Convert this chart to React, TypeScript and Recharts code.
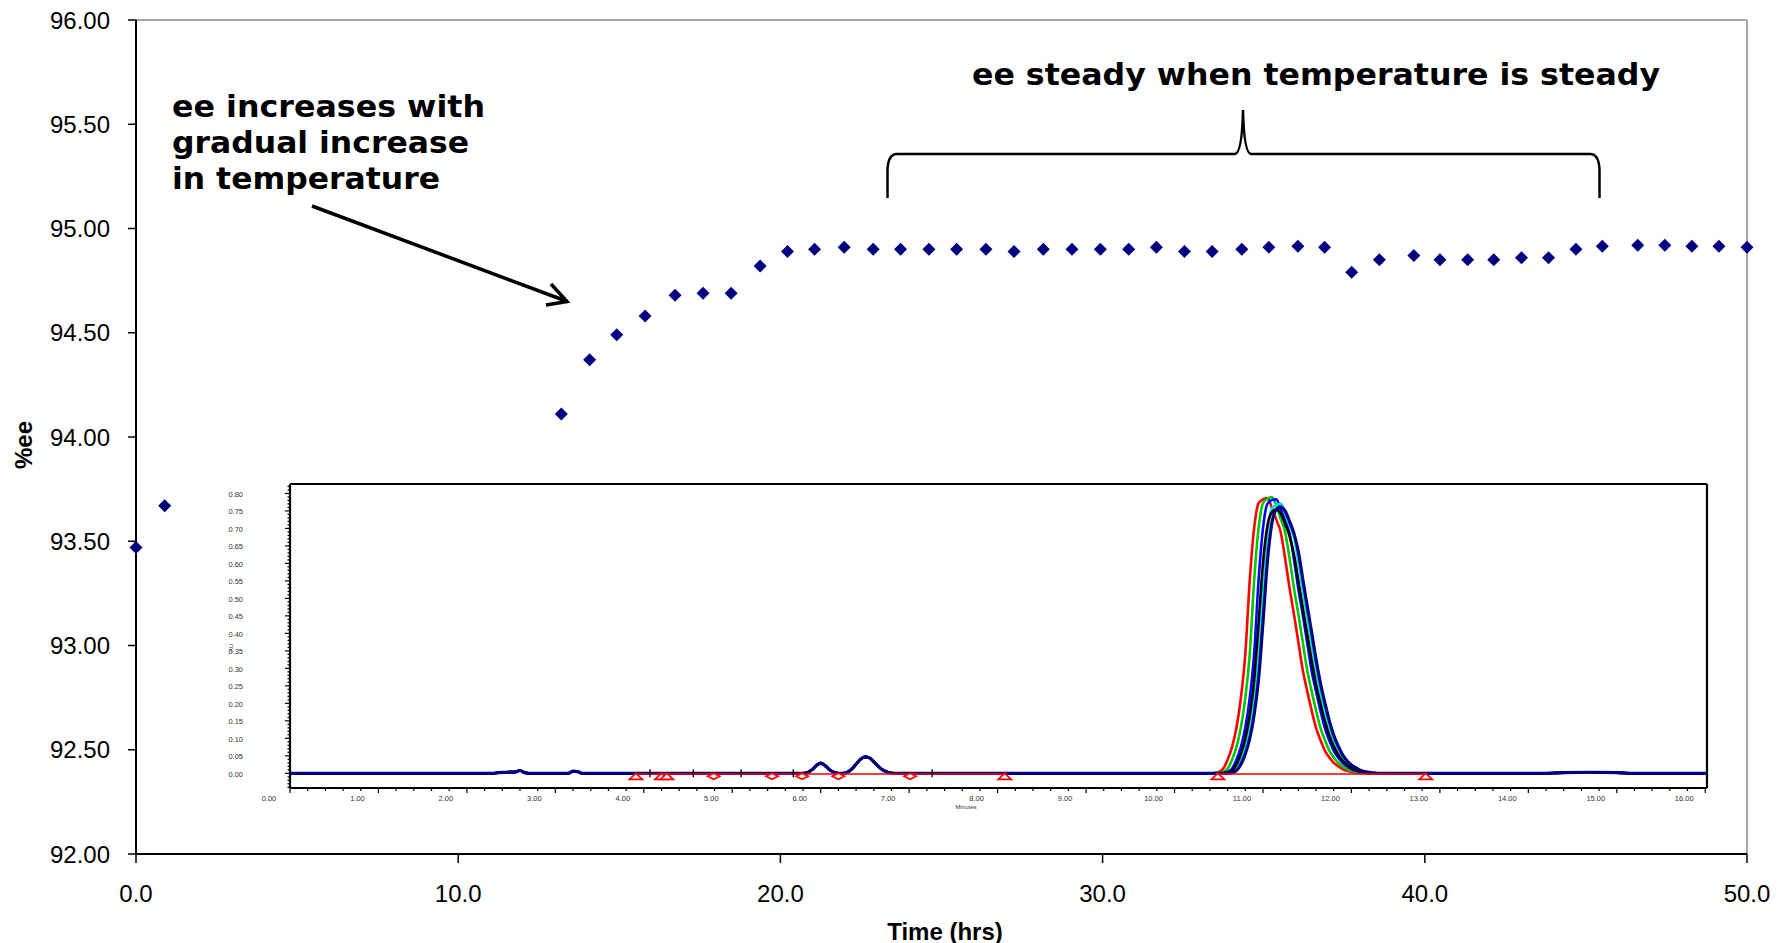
import React from 'react';
import {
  ScatterChart,
  Scatter,
  ComposedChart,
  Line,
  XAxis,
  YAxis,
  ReferenceLine,
} from 'recharts';

const W = 1781;
const H = 943;

const ARIAL = '"Liberation Sans", Arial, sans-serif';
const VERDANA = '"DejaVu Sans", Verdana, sans-serif';
const NARROW = '"Liberation Sans Narrow", "Arial Narrow", "Liberation Sans", sans-serif';

// main plot: %ee against run time (hrs)
const hours = [
  0, 0.89, 13.2, 14.08, 14.92, 15.8, 16.73, 17.6, 18.47, 19.37, 20.22, 21.06, 21.98, 22.88, 23.73,
  24.61, 25.47, 26.38, 27.25, 28.16, 29.05, 29.93, 30.81, 31.67, 32.54, 33.4, 34.32, 35.16, 36.06,
  36.89, 37.73, 38.59, 39.66, 40.47, 41.33, 42.14, 43.0, 43.84, 44.69, 45.51, 46.61, 47.45, 48.29,
  49.13, 50.0,
];
const eeValues = [
  93.47, 93.67, 94.11, 94.37, 94.49, 94.58, 94.68, 94.69, 94.69, 94.82, 94.89, 94.9, 94.91, 94.9,
  94.9, 94.9, 94.9, 94.9, 94.89, 94.9, 94.9, 94.9, 94.9, 94.91, 94.89, 94.89, 94.9, 94.91, 94.915,
  94.91, 94.79, 94.85, 94.87, 94.85, 94.85, 94.85, 94.86, 94.86, 94.9, 94.915, 94.92, 94.92, 94.915,
  94.915, 94.91,
];
const eeTicks = [92, 92.5, 93, 93.5, 94, 94.5, 95, 95.5, 96];
const hourTicks = [0, 10, 20, 30, 40, 50];

// inset chromatogram (AU against minutes)
const baseTimes = [
  0, 2.3, 2.35, 2.45, 2.55, 2.6, 2.65, 2.7, 3.15, 3.2, 3.25, 3.3, 5.8, 5.85, 5.9, 5.95, 6.0, 6.05,
  6.1, 6.15, 6.2, 6.25, 6.3, 6.35, 6.4, 6.45, 6.5, 6.55, 6.6, 6.65, 6.7, 6.75, 6.8, 6.85, 10.35,
];
const baseAU = [
  0, 0, 0.002, 0.003, 0.004, 0.008, 0.002, 0, 0, 0.006, 0.005, 0, 0, 0.002, 0.01, 0.022, 0.029,
  0.022, 0.01, 0.003, 0, 0, 0.003, 0.012, 0.026, 0.04, 0.047, 0.044, 0.033, 0.02, 0.01, 0.004,
  0.001, 0, 0,
];
const peakTimes = [
  10.4, 10.45, 10.5, 10.55, 10.6, 10.65, 10.7, 10.75, 10.8, 10.85, 10.9, 10.95, 11.0, 11.05, 11.1,
  11.15, 11.2, 11.25, 11.3, 11.35, 11.4, 11.45, 11.5, 11.55, 11.6, 11.65, 11.7, 11.75, 11.8, 11.85,
  11.9, 11.95, 12.0, 12.05, 12.1, 12.15, 12.2, 12.25, 12.3, 12.35, 12.4,
];
const redAU = [
  0, 0.001, 0.004, 0.013, 0.039, 0.075, 0.13, 0.215, 0.34, 0.55, 0.7, 0.772, 0.783, 0.787, 0.76,
  0.725, 0.69, 0.615, 0.53, 0.455, 0.375, 0.295, 0.235, 0.18, 0.13, 0.095, 0.065, 0.045, 0.03,
  0.02, 0.012, 0.007, 0.004, 0.002, 0.001, 0, 0, 0, 0, 0, 0,
];
const greenAU = [
  0, 0, 0.001, 0.004, 0.013, 0.039, 0.075, 0.13, 0.215, 0.34, 0.55, 0.7, 0.772, 0.785, 0.79, 0.765,
  0.728, 0.69, 0.615, 0.53, 0.455, 0.375, 0.295, 0.235, 0.18, 0.13, 0.095, 0.065, 0.045, 0.03,
  0.02, 0.012, 0.007, 0.004, 0.002, 0.001, 0, 0, 0, 0, 0,
];
const blueAU = [
  0, 0, 0, 0.001, 0.004, 0.013, 0.039, 0.075, 0.13, 0.215, 0.34, 0.55, 0.7, 0.77, 0.781, 0.783,
  0.757, 0.722, 0.686, 0.612, 0.527, 0.453, 0.373, 0.293, 0.234, 0.179, 0.129, 0.094, 0.065,
  0.045, 0.03, 0.02, 0.012, 0.007, 0.004, 0.002, 0.001, 0, 0, 0, 0,
];
const cyanAU = [
  0, 0, 0, 0, 0.001, 0.004, 0.013, 0.038, 0.073, 0.127, 0.21, 0.333, 0.54, 0.686, 0.757, 0.767,
  0.771, 0.745, 0.71, 0.676, 0.603, 0.52, 0.446, 0.368, 0.289, 0.23, 0.176, 0.127, 0.093, 0.064,
  0.044, 0.029, 0.02, 0.012, 0.007, 0.004, 0.002, 0.001, 0, 0, 0,
];
const blackAU = [
  0, 0, 0, 0, 0.002, 0.008, 0.025, 0.055, 0.098, 0.166, 0.266, 0.427, 0.6, 0.707, 0.746, 0.754,
  0.743, 0.713, 0.679, 0.626, 0.55, 0.473, 0.398, 0.322, 0.254, 0.199, 0.149, 0.108, 0.077, 0.053,
  0.036, 0.024, 0.015, 0.009, 0.005, 0.003, 0.001, 0, 0, 0, 0,
];
const navyAU = [
  0, 0, 0, 0, 0, 0.002, 0.008, 0.025, 0.055, 0.099, 0.167, 0.269, 0.432, 0.606, 0.714, 0.754,
  0.761, 0.75, 0.72, 0.686, 0.633, 0.555, 0.478, 0.403, 0.325, 0.257, 0.201, 0.15, 0.109, 0.078,
  0.053, 0.036, 0.024, 0.016, 0.009, 0.005, 0.003, 0.001, 0, 0, 0,
];
const tailTimes = [12.5, 14.2, 14.4, 14.7, 15.0, 15.15, 16.02];
const tailAU = [0, 0, 0.002, 0.003, 0.002, 0, 0];

// integration marks on the inset
const triangleTimes = [3.91, 4.2, 4.26, 8.08, 10.49, 12.84];
const diamondTimes = [4.79, 5.45, 5.79, 6.2, 7.01];
const eventTimes = [4.07, 4.56, 5.1, 5.69, 7.26];
const redBaseTimes = [3.91, 8.08, 9.0, 10.49, 12.84];
const redBaseAU = [-0.002, -0.002, null, -0.002, -0.002];

const minuteLabels = [0, 1, 2, 3, 4, 5, 6, 7, 8, 9, 10, 11, 12, 13, 14, 15, 16];

const traces = [
  { key: 'red', color: '#ff0000', width: 2.6, values: redAU },
  { key: 'green', color: '#00c800', width: 2.6, values: greenAU },
  { key: 'blue', color: '#0000ff', width: 2.6, values: blueAU },
  { key: 'cyan', color: '#00e0e0', width: 2.6, values: cyanAU },
  { key: 'black', color: '#000000', width: 2.6, values: blackAU },
  { key: 'navy', color: '#000080', width: 3.2, values: navyAU },
];

const sameRow = (t: number, v: number) => {
  const row: any = { t };
  traces.forEach((tr) => (row[tr.key] = v));
  return row;
};

const chromData = [
  ...baseTimes.map((t, i) => sameRow(t, baseAU[i])),
  ...peakTimes.map((t, i) => {
    const row: any = { t };
    traces.forEach((tr) => (row[tr.key] = tr.values[i]));
    return row;
  }),
  ...tailTimes.map((t, i) => sameRow(t, tailAU[i])),
];

const eeData = hours.map((h, i) => ({ h, ee: eeValues[i] }));
const triangleData = triangleTimes.map((t) => ({ t, m: 0 }));
const diamondData = diamondTimes.map((t) => ({ t, m: 0 }));
const eventData = eventTimes.map((t) => ({ t, m: 0 }));
const redBaseData = redBaseTimes.map((t, i) => ({ t, rb: redBaseAU[i] }));

const round2 = (v: number) => Math.round(v * 100) / 100;
const minuteTicks = minuteLabels.flatMap((m) =>
  m < 16 ? [m, m + 0.2, m + 0.4, m + 0.6, m + 0.8].map(round2) : [m]
);
const auTicks = Array.from({ length: 87 }, (_, i) => round2(-0.04 + i * 0.01));

const Diamond = (p: any) => (
  <path
    d={`M${p.cx},${p.cy - 6.5}L${p.cx + 6.5},${p.cy}L${p.cx},${p.cy + 6.5}L${p.cx - 6.5},${p.cy}Z`}
    fill="#000080"
  />
);

const TriangleMark = (p: any) => (
  <path
    d={`M${p.cx},${p.cy}L${p.cx + 6.5},${p.cy + 6}L${p.cx - 6.5},${p.cy + 6}Z`}
    fill="#fff"
    stroke="#ff0000"
    strokeWidth={1.7}
  />
);

const DiamondMark = (p: any) => (
  <path
    d={`M${p.cx - 6},${p.cy + 3}L${p.cx},${p.cy}L${p.cx + 6},${p.cy + 3}L${p.cx},${p.cy + 6}Z`}
    fill="#fff"
    stroke="#ff0000"
    strokeWidth={1.7}
  />
);

const EventMark = (p: any) => (
  <line x1={p.cx} y1={p.cy - 4} x2={p.cx} y2={p.cy + 4} stroke="#000" strokeWidth={1.4} />
);

const InsetXTick = ({ x, y, payload }: any) => {
  const v = payload.value;
  const major = Math.abs(v - Math.round(v)) < 1e-6;
  return (
    <g>
      <line x1={x} y1={y} x2={x} y2={y + (major ? 5 : 3)} stroke="#000" strokeWidth={1.2} />
      {major && (
        <text x={x - 21} y={y + 10} textAnchor="middle" dominantBaseline="central"
          fontSize={7.5} fontFamily={NARROW} fill="#333">
          {v.toFixed(2)}
        </text>
      )}
    </g>
  );
};

const InsetYTick = ({ x, y, payload }: any) => {
  const v = payload.value;
  const major = Math.round(v * 100) % 5 === 0 && v >= 0;
  return (
    <g>
      <line x1={x - (major ? 5 : 2.5)} y1={y} x2={x} y2={y} stroke="#000" strokeWidth={1.2} />
      {major && (
        <text x={x - 47} y={y + 1} textAnchor="end" dominantBaseline="central"
          fontSize={7.5} fontFamily={NARROW} fill="#333">
          {v.toFixed(2)}
        </text>
      )}
    </g>
  );
};

const bold = { fontFamily: VERDANA, fontWeight: 'bold' as const, fontSize: 30, fill: '#000' };

export default function App() {
  return (
    <div style={{ position: 'absolute', left: 0, top: 0, width: W, height: H, background: '#fff', overflow: 'hidden' }}>
      <div style={{ position: 'absolute', left: 0, top: 0 }}>
        <ScatterChart width={W} height={H} margin={{ top: 20, right: 34, bottom: 29, left: 36 }}>
          <XAxis
            type="number"
            dataKey="h"
            domain={[0, 50]}
            ticks={hourTicks}
            interval={0}
            tickFormatter={(v: number) => v.toFixed(1)}
            height={60}
            tickSize={9}
            tickMargin={22}
            axisLine={{ stroke: '#000', strokeWidth: 2 }}
            tickLine={{ stroke: '#000', strokeWidth: 1.5 }}
            tick={{ fill: '#000', fontSize: 24, fontFamily: ARIAL }}
          />
          <YAxis
            type="number"
            dataKey="ee"
            domain={[92, 96]}
            ticks={eeTicks}
            interval={0}
            tickFormatter={(v: number) => v.toFixed(2)}
            width={100}
            tickSize={8}
            tickMargin={18}
            axisLine={{ stroke: '#000', strokeWidth: 2 }}
            tickLine={{ stroke: '#000', strokeWidth: 1.5 }}
            tick={{ fill: '#000', fontSize: 24, fontFamily: ARIAL }}
          />
          <ReferenceLine y={96} stroke="#a6a6a6" strokeWidth={2} />
          <ReferenceLine x={50} stroke="#a6a6a6" strokeWidth={2} />
          <Scatter data={eeData} shape={Diamond} isAnimationActive={false} />
        </ScatterChart>
      </div>

      <div style={{ position: 'absolute', left: 0, top: 0 }}>
        <ComposedChart width={W} height={H} data={chromData} margin={{ top: 484, right: 74, bottom: 154, left: 289 }}>
          <XAxis
            type="number"
            dataKey="t"
            domain={[0, 16.02]}
            ticks={minuteTicks}
            interval={0}
            height={1}
            tickSize={0}
            tickMargin={0}
            tickLine={false}
            axisLine={{ stroke: '#000', strokeWidth: 2.2 }}
            tick={<InsetXTick />}
          />
          <YAxis
            type="number"
            domain={[-0.042, 0.827]}
            ticks={auTicks}
            interval={0}
            width={1}
            tickSize={0}
            tickMargin={0}
            tickLine={false}
            axisLine={{ stroke: '#000', strokeWidth: 2.2 }}
            tick={<InsetYTick />}
          />
          <ReferenceLine y={0.827} stroke="#000" strokeWidth={2.2} />
          <ReferenceLine x={16.02} stroke="#000" strokeWidth={2.2} />
          {traces.map((tr) => (
            <Line
              key={tr.key}
              dataKey={tr.key}
              type="monotone"
              stroke={tr.color}
              strokeWidth={tr.width}
              dot={false}
              isAnimationActive={false}
            />
          ))}
          <Line data={redBaseData} dataKey="rb" type="linear" stroke="#ff0000" strokeWidth={1.5}
            dot={false} connectNulls={false} isAnimationActive={false} />
          <Scatter data={eventData} dataKey="m" shape={EventMark} isAnimationActive={false} />
          <Scatter data={triangleData} dataKey="m" shape={TriangleMark} isAnimationActive={false} />
          <Scatter data={diamondData} dataKey="m" shape={DiamondMark} isAnimationActive={false} />
        </ComposedChart>
      </div>

      <svg width={W} height={H} style={{ position: 'absolute', left: 0, top: 0, pointerEvents: 'none' }}>
        <text x={172} y={117} {...bold} textLength={313} lengthAdjust="spacingAndGlyphs">ee increases with</text>
        <text x={172} y={153} {...bold} textLength={297} lengthAdjust="spacingAndGlyphs">gradual increase</text>
        <text x={172} y={189} {...bold} textLength={268} lengthAdjust="spacingAndGlyphs">in temperature</text>
        <text x={972} y={85} {...bold} textLength={688} lengthAdjust="spacingAndGlyphs">
          ee steady when temperature is steady
        </text>

        <line x1={312} y1={206} x2={566} y2={301} stroke="#000" strokeWidth={3.5} />
        <polyline points="546,305 567,301.5 551,284" fill="none" stroke="#000" strokeWidth={3.5} />

        <path
          d="M887.5,198 L887.5,170 Q888,154 897,154 L1235,154 Q1242,153 1243,110 Q1244,153 1251,154 L1590,154 Q1599,154 1599.5,170 L1599.5,198"
          fill="none"
          stroke="#000"
          strokeWidth={2.5}
        />

        <text x={23} y={445} transform="rotate(-90 23 445)" textAnchor="middle" dominantBaseline="central"
          fontFamily={ARIAL} fontWeight="bold" fontSize={24}>
          %ee
        </text>
        <text x={945} y={931} textAnchor="middle" dominantBaseline="central"
          fontFamily={ARIAL} fontWeight="bold" fontSize={24}>
          Time (hrs)
        </text>
        <text x={231} y={648} transform="rotate(-90 231 648)" textAnchor="middle" dominantBaseline="central"
          fontFamily={NARROW} fontSize={6} fill="#333">
          AU
        </text>
        <text x={966} y={807} textAnchor="middle" dominantBaseline="central"
          fontFamily={NARROW} fontSize={6} fill="#333">
          Minutes
        </text>
      </svg>
    </div>
  );
}
